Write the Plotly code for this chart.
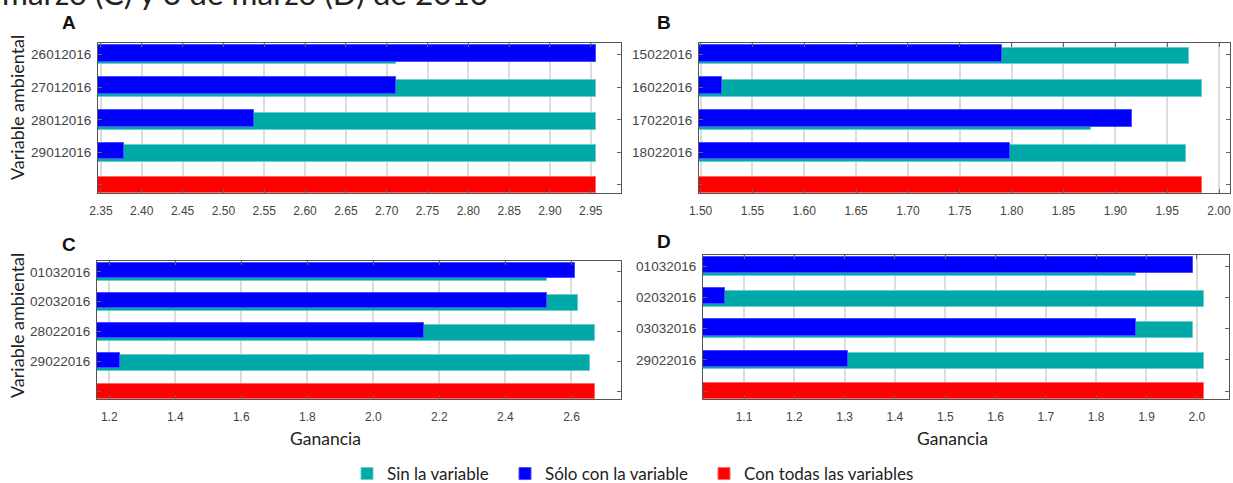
import plotly.graph_objects as go

W, H = 1233, 483

# ---------------- data ----------------
A_cats = ["26012016", "27012016", "28012016", "29012016"]
A_sin = [2.712, 2.956, 2.956, 2.956]
A_solo = [2.956, 2.712, 2.538, 2.378]
A_todas = [2.956]

B_cats = ["15022016", "16022016", "17022016", "18022016"]
B_sin = [1.971, 1.984, 1.877, 1.968]
B_solo = [1.791, 1.521, 1.916, 1.798]
B_todas = [1.984]

C_cats = ["01032016", "02032016", "28022016", "29022016"]
C_sin = [2.527, 2.619, 2.671, 2.656]
C_solo = [2.611, 2.527, 2.152, 1.233]
C_todas = [2.671]

D_cats = ["01032016", "02032016", "03032016", "29022016"]
D_sin = [1.879, 2.015, 1.992, 2.015]
D_solo = [1.992, 1.063, 1.879, 1.306]
D_todas = [2.015]

series_names = ["Sin la variable", "Sólo con la variable", "Con todas las variables"]
panel_letters = ["A", "B", "C", "D"]
caption = "marzo (C) y 3 de marzo (D) de 2016"
x_title = "Ganancia"
y_title = "Variable ambiental"

COL_SIN = "#00a8a8"
COL_SOLO = "#0000ff"
COL_TODAS = "#ff0000"
BLANK = " "

def px_x(p):
    return p / W

def px_y(p):
    return 1 - p / H

panels = [
    dict(cats=A_cats, sin=A_sin, solo=A_solo, todas=A_todas,
         xd=(98, 621), yd=(43, 193), xr=(2.3464, 2.987), tick0=2.35, dtick=0.05, fmt=".2f"),
    dict(cats=B_cats, sin=B_sin, solo=B_solo, todas=B_todas,
         xd=(699, 1230), yd=(43, 193), xr=(1.4985, 2.0106), tick0=1.50, dtick=0.05, fmt=".2f"),
    dict(cats=C_cats, sin=C_sin, solo=C_solo, todas=C_todas,
         xd=(97, 621), yd=(261, 399), xr=(1.163, 2.75), tick0=1.2, dtick=0.2, fmt=".1f"),
    dict(cats=D_cats, sin=D_sin, solo=D_solo, todas=D_todas,
         xd=(703, 1229), yd=(255, 399), xr=(1.0185, 2.064), tick0=1.1, dtick=0.1, fmt=".1f"),
]

fig = go.Figure()
layout = {}
for i, p in enumerate(panels):
    n = "" if i == 0 else str(i + 1)
    xa, ya = "x" + n, "y" + n
    show = i == 0
    fig.add_trace(go.Bar(
        y=p["cats"], x=p["sin"], orientation="h", name=series_names[0],
        marker=dict(color=COL_SIN, line=dict(color="#66d0d0", width=1)),
        width=0.52, offset=-0.30, xaxis=xa, yaxis=ya,
        legend="legend", legendgroup="sin", showlegend=show))
    fig.add_trace(go.Bar(
        y=p["cats"], x=p["solo"], orientation="h", name=series_names[1],
        marker=dict(color=COL_SOLO, line=dict(color="#4a4aff", width=1)),
        width=0.52, offset=-0.22, xaxis=xa, yaxis=ya,
        legend="legend2", legendgroup="solo", showlegend=show))
    fig.add_trace(go.Bar(
        y=[BLANK], x=p["todas"], orientation="h", name=series_names[2],
        marker=dict(color=COL_TODAS, line=dict(color="#ff6666", width=1)),
        width=0.5, offset=-0.25, xaxis=xa, yaxis=ya,
        legend="legend3", legendgroup="todas", showlegend=show))

    layout["xaxis" + n] = dict(
        domain=[px_x(p["xd"][0]), px_x(p["xd"][1])], anchor=ya, automargin=False,
        range=list(p["xr"]), tick0=p["tick0"], dtick=p["dtick"], tickformat=p["fmt"],
        showgrid=True, gridcolor="#dcdcdc", gridwidth=1.5, zeroline=False,
        showline=True, linecolor="#555555", linewidth=1.2, mirror="ticks",
        ticks="inside", ticklen=4, tickcolor="#666666",
        ticklabelstandoff=6,
        tickfont=dict(family="Liberation Sans, Arial, sans-serif", size=12, color="#444444"),
        fixedrange=True)
    layout["yaxis" + n] = dict(
        domain=[px_y(p["yd"][1]), px_y(p["yd"][0])], anchor=xa, automargin=False,
        type="category", categoryorder="array",
        categoryarray=[BLANK] + list(reversed(p["cats"])),
        range=[-0.25, 4.36], showgrid=False, zeroline=False,
        showline=True, linecolor="#555555", linewidth=1.2, mirror="ticks",
        ticks="inside", ticklen=4, tickcolor="#666666",
        ticklabelstandoff=3,
        tickfont=dict(family="Liberation Sans, Arial, sans-serif", size=13.5, color="#444444"),
        fixedrange=True)

annotations = []
letter_pos = [(69, 22), (664, 22), (69, 244), (664, 241)]
for L, (lx, ly) in zip(panel_letters, letter_pos):
    annotations.append(dict(text="<b>%s</b>" % L, x=px_x(lx), y=px_y(ly), xref="paper", yref="paper",
                            xanchor="center", yanchor="middle", showarrow=False,
                            font=dict(family="Liberation Sans, Arial, sans-serif", size=19, color="#111111")))
for (ax_, ay_) in [(17, 108), (17, 326)]:
    annotations.append(dict(text=y_title, x=px_x(ax_), y=px_y(ay_), xref="paper", yref="paper",
                            xanchor="center", yanchor="middle", textangle=-90, showarrow=False,
                            font=dict(family="Lato, sans-serif", size=18, color="#222222")))
for (gx, gy) in [(326, 438), (952, 438)]:
    annotations.append(dict(text=x_title, x=px_x(gx), y=px_y(gy), xref="paper", yref="paper",
                            xanchor="center", yanchor="middle", showarrow=False,
                            font=dict(family="Lato, sans-serif", size=17.5, color="#222222")))
annotations.append(dict(text=caption, x=0, y=px_y(14), xref="paper", yref="paper",
                        xanchor="left", yanchor="bottom", showarrow=False,
                        font=dict(family="Lato, sans-serif", size=31.5, color="#222222")))

legend_common = dict(orientation="h", xanchor="left", y=px_y(474), yanchor="middle",
                     font=dict(family="Lato, sans-serif", size=17, color="#222222"),
                     bgcolor="rgba(0,0,0,0)", itemclick=False, itemdoubleclick=False)

fig.update_layout(
    width=W, height=H, margin=dict(l=0, r=0, t=0, b=0, autoexpand=False),
    paper_bgcolor="white", plot_bgcolor="white",
    barmode="overlay", bargap=0,
    showlegend=True,
    legend=dict(x=px_x(347), **legend_common),
    legend2=dict(x=px_x(505), **legend_common),
    legend3=dict(x=px_x(704), **legend_common),
    annotations=annotations,
    **layout,
)

fig.write_html("out.html", config={"displayModeBar": False},
               post_script="document.body.style.margin='0';document.body.style.overflow='hidden';")
